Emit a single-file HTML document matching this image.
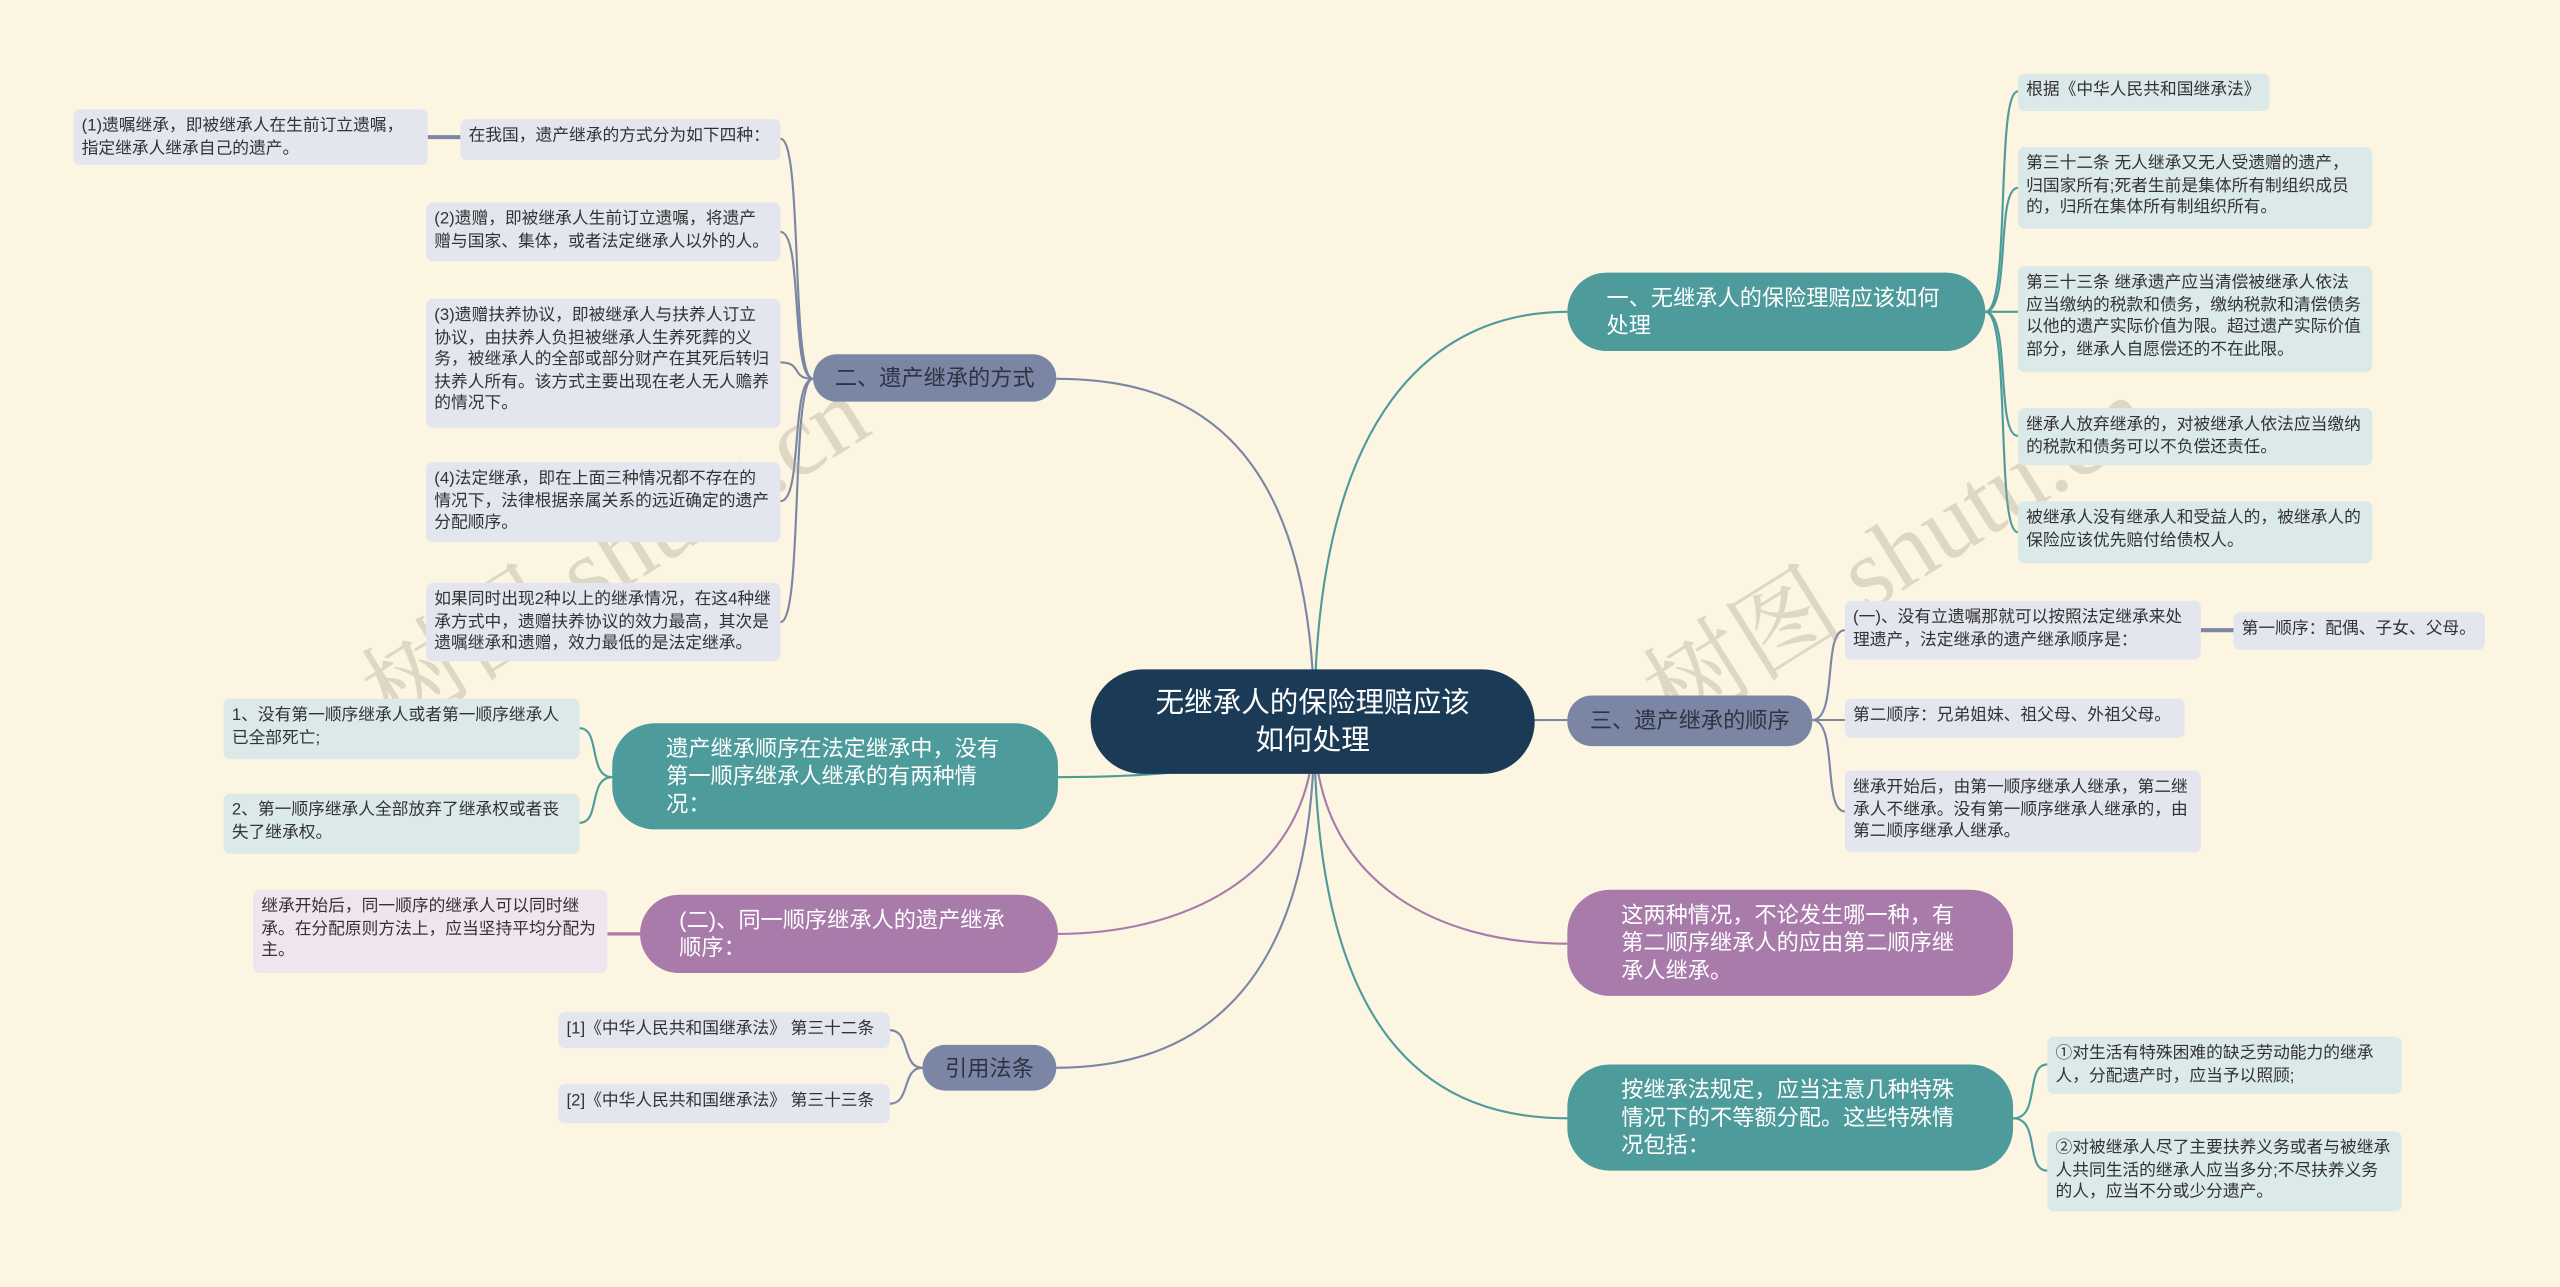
<!DOCTYPE html>
<html><head><meta charset="utf-8"><style>
html,body{margin:0;padding:0;background:#fbf5e1;overflow:hidden}
#w{position:absolute;left:0;top:0;width:1568px;height:788px;transform:scale(1.632653);transform-origin:0 0;font-family:"Liberation Sans","Noto Sans CJK SC",sans-serif}
.n{position:absolute;box-sizing:border-box;font-size:10.25px;line-height:13.5px;padding:4px 5px;border-radius:4px;color:#333;background:#e4e6ef}
.s{white-space:nowrap;overflow:hidden}
.t{background:#dce9e9}
.p{background:#f0e4ef}
.b{position:absolute;box-sizing:border-box;font-size:13.6px;line-height:17px;color:#fff;display:flex;align-items:center;border-radius:26px;padding:0 24px}
.sl{background:#7a86a3;color:#2d3344;border-radius:15px;padding:0 8px;justify-content:center;white-space:nowrap}
.tl{background:#4e9b9b;color:#fff}
.pu{background:#a87bab;color:#fff}
.wm{position:absolute;font-family:"Liberation Serif","Noto Serif CJK SC",serif;font-size:62px;color:rgba(170,160,140,0.35);transform:rotate(-32deg);white-space:nowrap}
</style></head><body><div id="w">
<svg width="1568" height="788" style="position:absolute;left:0;top:0" fill="none" stroke-width="1.3">
<g stroke="#4e9b9b"><path d="M805,445 C805,250 880,191 960,191"/><path d="M805,445 C805,640 880,685 960,685"/><path d="M805,445 C790,472 700,476 648,476"/>
<path d="M1216,191 C1232,191 1222,56 1236,56"/><path d="M1216,191 C1232,191 1222,115 1236,115"/><path d="M1216,191 H1236"/><path d="M1216,191 C1232,191 1222,267 1236,267"/><path d="M1216,191 C1232,191 1222,326 1236,326"/>
<path d="M1233,685 C1250,685 1240,652 1254,652"/><path d="M1233,685 C1250,685 1240,717 1254,717"/>
<path d="M375,476 C360,476 368,446 355,446"/><path d="M375,476 C360,476 368,504 355,504"/></g>
<g stroke="#7a86a3"><path d="M805,445 C850,441 900,441 960,441"/><path d="M805,445 C805,260 720,232 647,232"/><path d="M805,445 C805,620 720,654 647,654"/>
<path d="M1110,441 C1126,441 1116,386 1130,386"/><path d="M1110,441 H1130"/><path d="M1110,441 C1126,441 1116,497 1130,497"/><path d="M1348,386 H1368" stroke-width="2.5"/>
<path d="M498,232 C484,232 492,85 478,85"/><path d="M498,232 C484,232 492,142 478,142"/><path d="M498,232 C484,232 492,222 478,222"/><path d="M498,232 C484,232 492,307 478,307"/><path d="M498,232 C484,232 492,381 478,381"/><path d="M262,84 H282" stroke-width="2.5"/>
<path d="M565,654 C552,654 558,631 545,631"/><path d="M565,654 C552,654 558,676 545,676"/></g>
<g stroke="#a87bab"><path d="M805,445 C805,540 880,578 960,578"/><path d="M805,445 C805,540 720,572 648,572"/><path d="M392,572 H372" stroke-width="2"/></g>
</svg>
<div class="wm" style="left:200px;top:290px">树图 shutu.cn</div>
<div class="wm" style="left:985px;top:290px">树图 shutu.cn</div>

<div class="b" style="left:668px;top:410px;width:272px;height:64px;background:#1b3a56;border-radius:32px;font-size:17.5px;line-height:23px;justify-content:center;text-align:center;padding:0 36px">无继承人的保险理赔应该如何处理</div>

<div class="b tl" style="left:960px;top:167px;width:256px;height:48px">一、无继承人的保险理赔应该如何处理</div>
<div class="n t s" style="left:1236px;top:45px;width:154px;height:23px">根据《中华人民共和国继承法》</div>
<div class="n t" style="left:1236px;top:90px;width:217px;height:50px">第三十二条 无人继承又无人受遗赠的遗产，归国家所有;死者生前是集体所有制组织成员的，归所在集体所有制组织所有。</div>
<div class="n t" style="left:1236px;top:163px;width:217px;height:65px">第三十三条 继承遗产应当清偿被继承人依法应当缴纳的税款和债务，缴纳税款和清偿债务以他的遗产实际价值为限。超过遗产实际价值部分，继承人自愿偿还的不在此限。</div>
<div class="n t" style="left:1236px;top:250px;width:217px;height:35px">继承人放弃继承的，对被继承人依法应当缴纳的税款和债务可以不负偿还责任。</div>
<div class="n t" style="left:1236px;top:307px;width:217px;height:38px">被继承人没有继承人和受益人的，被继承人的保险应该优先赔付给债权人。</div>

<div class="b sl" style="left:960px;top:426px;width:150px;height:31px">三、遗产继承的顺序</div>
<div class="n" style="left:1130px;top:368px;width:218px;height:36px">(一)、没有立遗嘱那就可以按照法定继承来处理遗产，法定继承的遗产继承顺序是：</div>
<div class="n s" style="left:1368px;top:375px;width:154px;height:23px">第一顺序：配偶、子女、父母。</div>
<div class="n s" style="left:1130px;top:428px;width:208px;height:24px">第二顺序：兄弟姐妹、祖父母、外祖父母。</div>
<div class="n" style="left:1130px;top:472px;width:218px;height:50px">继承开始后，由第一顺序继承人继承，第二继承人不继承。没有第一顺序继承人继承的，由第二顺序继承人继承。</div>

<div class="b pu" style="left:960px;top:545px;width:273px;height:65px;padding:0 30px 0 33px">这两种情况，不论发生哪一种，有第二顺序继承人的应由第二顺序继承人继承。</div>
<div class="b tl" style="left:960px;top:652px;width:273px;height:65px;padding:0 30px 0 33px">按继承法规定，应当注意几种特殊情况下的不等额分配。这些特殊情况包括：</div>
<div class="n t" style="left:1254px;top:635px;width:217px;height:35px">①对生活有特殊困难的缺乏劳动能力的继承人，分配遗产时，应当予以照顾;</div>
<div class="n t" style="left:1254px;top:693px;width:217px;height:49px">②对被继承人尽了主要扶养义务或者与被继承人共同生活的继承人应当多分;不尽扶养义务的人，应当不分或少分遗产。</div>

<div class="b sl" style="left:498px;top:217px;width:149px;height:29px">二、遗产继承的方式</div>
<div class="n s" style="left:282px;top:73px;width:196px;height:25px">在我国，遗产继承的方式分为如下四种：</div>
<div class="n" style="left:45px;top:67px;width:217px;height:34px">(1)遗嘱继承，即被继承人在生前订立遗嘱，指定继承人继承自己的遗产。</div>
<div class="n" style="left:261px;top:124px;width:217px;height:36px">(2)遗赠，即被继承人生前订立遗嘱，将遗产赠与国家、集体，或者法定继承人以外的人。</div>
<div class="n" style="left:261px;top:183px;width:217px;height:79px">(3)遗赠扶养协议，即被继承人与扶养人订立协议，由扶养人负担被继承人生养死葬的义务，被继承人的全部或部分财产在其死后转归扶养人所有。该方式主要出现在老人无人赡养的情况下。</div>
<div class="n" style="left:261px;top:283px;width:217px;height:49px">(4)法定继承，即在上面三种情况都不存在的情况下，法律根据亲属关系的远近确定的遗产分配顺序。</div>
<div class="n" style="left:261px;top:357px;width:217px;height:48px">如果同时出现2种以上的继承情况，在这4种继承方式中，遗赠扶养协议的效力最高，其次是遗嘱继承和遗赠，效力最低的是法定继承。</div>

<div class="b tl" style="left:375px;top:443px;width:273px;height:65px;padding:0 30px 0 33px">遗产继承顺序在法定继承中，没有第一顺序继承人继承的有两种情况：</div>
<div class="n t" style="left:137px;top:428px;width:218px;height:37px">1、没有第一顺序继承人或者第一顺序继承人已全部死亡;</div>
<div class="n t" style="left:137px;top:486px;width:218px;height:37px">2、第一顺序继承人全部放弃了继承权或者丧失了继承权。</div>

<div class="b pu" style="left:392px;top:548px;width:256px;height:48px">(二)、同一顺序继承人的遗产继承顺序：</div>
<div class="n p" style="left:155px;top:545px;width:217px;height:51px">继承开始后，同一顺序的继承人可以同时继承。在分配原则方法上，应当坚持平均分配为主。</div>

<div class="b sl" style="left:565px;top:640px;width:82px;height:28px">引用法条</div>
<div class="n s" style="left:342px;top:620px;width:203px;height:22px">[1]《中华人民共和国继承法》 第三十二条</div>
<div class="n s" style="left:342px;top:664px;width:203px;height:24px">[2]《中华人民共和国继承法》 第三十三条</div>
</div></body></html>
